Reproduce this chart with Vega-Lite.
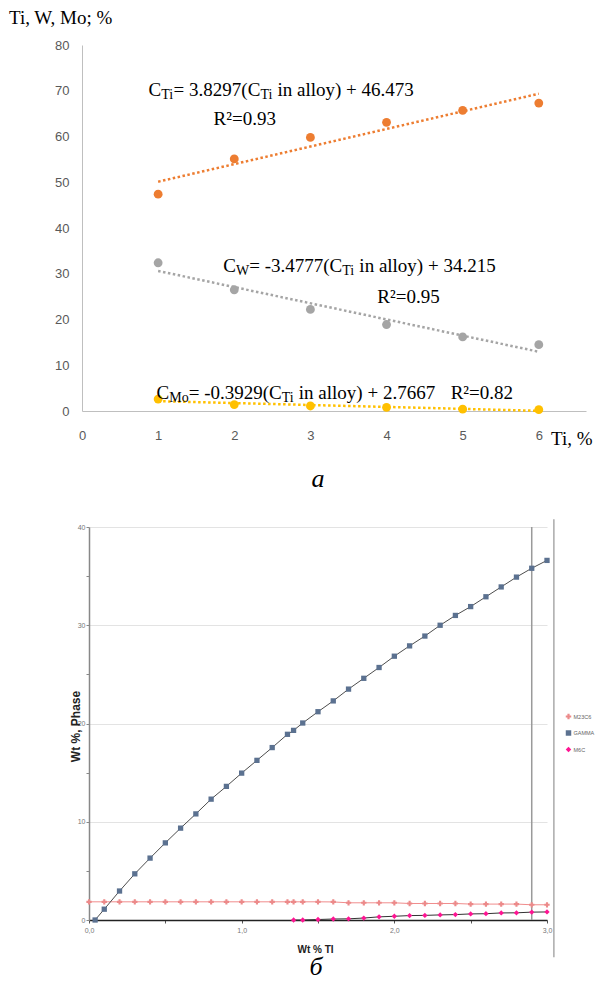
{
  "$schema": "https://vega.github.io/schema/vega-lite/v6.json",
  "background": "white",
  "padding": {"left": 8, "top": 8, "right": 0, "bottom": 0},
  "spacing": 26,
  "config": {"view": {"stroke": null}},
  "resolve": {"scale": {"color": "independent", "shape": "independent"}, "legend": {"color": "independent", "shape": "independent"}},
  "vconcat": [
    {
      "width": 504,
      "height": 366,
      "title": {"text": "а", "orient": "bottom", "font": "Liberation Serif", "fontStyle": "italic", "fontWeight": "normal", "fontSize": 26, "color": "black", "dx": -16, "offset": 17},
      "layer": [
        {
          "data": {"values": [
            {"ti": 1, "series": "Ti", "c": 47.4},
            {"ti": 2, "series": "Ti", "c": 55.1},
            {"ti": 3, "series": "Ti", "c": 59.8},
            {"ti": 4, "series": "Ti", "c": 63.1},
            {"ti": 5, "series": "Ti", "c": 65.7},
            {"ti": 6, "series": "Ti", "c": 67.3},
            {"ti": 1, "series": "W", "c": 32.4},
            {"ti": 2, "series": "W", "c": 26.5},
            {"ti": 3, "series": "W", "c": 22.2},
            {"ti": 4, "series": "W", "c": 18.9},
            {"ti": 5, "series": "W", "c": 16.2},
            {"ti": 6, "series": "W", "c": 14.5},
            {"ti": 1, "series": "Mo", "c": 2.6},
            {"ti": 2, "series": "Mo", "c": 1.4},
            {"ti": 3, "series": "Mo", "c": 1.1},
            {"ti": 4, "series": "Mo", "c": 0.8},
            {"ti": 5, "series": "Mo", "c": 0.4},
            {"ti": 6, "series": "Mo", "c": 0.3}
          ]},
          "encoding": {
            "x": {"field": "ti", "type": "quantitative", "scale": {"domain": [0, 6.62], "nice": false},
              "axis": {"title": "Ti, %", "titleFont": "Liberation Serif", "titleFontSize": 19, "titleFontWeight": "normal", "titleColor": "black",
                "titleX": 468.5, "titleY": 33.5, "titleAlign": "left", "titleBaseline": "alphabetic",
                "values": [0, 1, 2, 3, 4, 5, 6], "format": "d", "ticks": false, "grid": false,
                "domainColor": "#bfbfbf", "domainWidth": 1, "labelFont": "Liberation Sans", "labelFontSize": 13, "labelColor": "#595959", "labelPadding": 18, "labelFlush": false}},
            "y": {"field": "c", "type": "quantitative", "scale": {"domain": [0, 80], "nice": false},
              "axis": {"title": "Ti, W, Mo; %", "titleFont": "Liberation Serif", "titleFontSize": 19, "titleFontWeight": "normal", "titleColor": "black",
                "titleAngle": 0, "titleX": -73.5, "titleY": -22, "titleAlign": "left", "titleBaseline": "alphabetic",
                "values": [0, 10, 20, 30, 40, 50, 60, 70, 80], "ticks": false, "grid": false,
                "domainColor": "#bfbfbf", "domainWidth": 1, "labelFont": "Liberation Sans", "labelFontSize": 13, "labelColor": "#595959", "labelPadding": 13}},
            "color": {"field": "series", "type": "nominal", "scale": {"domain": ["Ti", "W", "Mo"], "range": ["#ED7D31", "#A5A5A5", "#FFC000"]}, "legend": null}
          },
          "layer": [
            {"transform": [{"regression": "c", "on": "ti", "groupby": ["series"]}],
             "mark": {"type": "line", "strokeDash": [2.5, 2.5], "strokeWidth": 2.5}},
            {"mark": {"type": "circle", "size": 78, "opacity": 1}}
          ]
        },
        {
          "data": {"values": [
            {"x": 0.874, "y": 68.9, "t": "C", "r": "main"},
            {"x": 1.040, "y": 68.9, "t": "Ti", "r": "sub"},
            {"x": 1.203, "y": 68.9, "t": "= 3.8297(C", "r": "main"},
            {"x": 2.343, "y": 68.9, "t": "Ti", "r": "sub"},
            {"x": 2.568, "y": 68.9, "t": "in alloy) + 46.473", "r": "main"},
            {"x": 1.728, "y": 62.55, "t": "R²=0.93", "r": "main"},
            {"x": 1.855, "y": 30.3, "t": "C", "r": "main"},
            {"x": 2.022, "y": 30.3, "t": "W", "r": "sub"},
            {"x": 2.196, "y": 30.3, "t": "= -3.4777(C", "r": "main"},
            {"x": 3.418, "y": 30.3, "t": "Ti", "r": "sub"},
            {"x": 3.643, "y": 30.3, "t": "in alloy) + 34.215", "r": "main"},
            {"x": 3.879, "y": 23.6, "t": "R²=0.95", "r": "main"},
            {"x": 0.979, "y": 2.73, "t": "C", "r": "main"},
            {"x": 1.146, "y": 2.73, "t": "Mo", "r": "sub"},
            {"x": 1.401, "y": 2.73, "t": "= -0.3929(C", "r": "main"},
            {"x": 2.623, "y": 2.73, "t": "Ti", "r": "sub"},
            {"x": 2.848, "y": 2.73, "t": "in alloy) + 2.7667", "r": "main"},
            {"x": 4.842, "y": 2.73, "t": "R²=0.82", "r": "main"}
          ]},
          "encoding": {
            "x": {"field": "x", "type": "quantitative"},
            "y": {"field": "y", "type": "quantitative"},
            "text": {"field": "t"}
          },
          "layer": [
            {"transform": [{"filter": "datum.r === 'main'"}],
             "mark": {"type": "text", "align": "left", "baseline": "alphabetic", "font": "Liberation Serif", "fontSize": 19, "color": "black"}},
            {"transform": [{"filter": "datum.r === 'sub'"}],
             "mark": {"type": "text", "align": "left", "baseline": "alphabetic", "font": "Liberation Serif", "fontSize": 14, "dy": 3, "color": "black"}}
          ]
        }
      ]
    },
    {
      "resolve": {"scale": {"color": "independent", "shape": "independent"}, "legend": {"color": "independent", "shape": "independent"}},
      "hconcat": [
        {"width": 1, "height": 1, "data": {"values": []}, "mark": "point"},
        {
          "width": 458,
          "height": 393,
          "title": {"text": "б", "orient": "bottom", "font": "Liberation Serif", "fontStyle": "italic", "fontWeight": "normal", "fontSize": 26, "color": "black", "dx": -2, "offset": -4},
          "data": {"values": [
            {"wt": 0.0, "phase": "M23C6", "v": 1.85},
            {"wt": 0.1, "phase": "M23C6", "v": 1.85},
            {"wt": 0.2, "phase": "M23C6", "v": 1.85},
            {"wt": 0.3, "phase": "M23C6", "v": 1.85},
            {"wt": 0.4, "phase": "M23C6", "v": 1.85},
            {"wt": 0.5, "phase": "M23C6", "v": 1.85},
            {"wt": 0.6, "phase": "M23C6", "v": 1.85},
            {"wt": 0.7, "phase": "M23C6", "v": 1.85},
            {"wt": 0.8, "phase": "M23C6", "v": 1.85},
            {"wt": 0.9, "phase": "M23C6", "v": 1.85},
            {"wt": 1.0, "phase": "M23C6", "v": 1.85},
            {"wt": 1.1, "phase": "M23C6", "v": 1.85},
            {"wt": 1.2, "phase": "M23C6", "v": 1.85},
            {"wt": 1.3, "phase": "M23C6", "v": 1.85},
            {"wt": 1.34, "phase": "M23C6", "v": 1.85},
            {"wt": 1.4, "phase": "M23C6", "v": 1.85},
            {"wt": 1.5, "phase": "M23C6", "v": 1.85},
            {"wt": 1.6, "phase": "M23C6", "v": 1.84},
            {"wt": 1.7, "phase": "M23C6", "v": 1.75},
            {"wt": 1.8, "phase": "M23C6", "v": 1.75},
            {"wt": 1.9, "phase": "M23C6", "v": 1.75},
            {"wt": 2.0, "phase": "M23C6", "v": 1.75},
            {"wt": 2.1, "phase": "M23C6", "v": 1.68},
            {"wt": 2.2, "phase": "M23C6", "v": 1.68},
            {"wt": 2.3, "phase": "M23C6", "v": 1.68},
            {"wt": 2.4, "phase": "M23C6", "v": 1.68},
            {"wt": 2.5, "phase": "M23C6", "v": 1.62},
            {"wt": 2.6, "phase": "M23C6", "v": 1.62},
            {"wt": 2.7, "phase": "M23C6", "v": 1.62},
            {"wt": 2.8, "phase": "M23C6", "v": 1.62},
            {"wt": 2.9, "phase": "M23C6", "v": 1.55},
            {"wt": 3.0, "phase": "M23C6", "v": 1.55},
            {"wt": 0.04, "phase": "GAMMA", "v": 0.0},
            {"wt": 0.1, "phase": "GAMMA", "v": 1.1},
            {"wt": 0.2, "phase": "GAMMA", "v": 2.95},
            {"wt": 0.3, "phase": "GAMMA", "v": 4.7},
            {"wt": 0.4, "phase": "GAMMA", "v": 6.3},
            {"wt": 0.5, "phase": "GAMMA", "v": 7.85},
            {"wt": 0.6, "phase": "GAMMA", "v": 9.35},
            {"wt": 0.7, "phase": "GAMMA", "v": 10.8},
            {"wt": 0.8, "phase": "GAMMA", "v": 12.3},
            {"wt": 0.9, "phase": "GAMMA", "v": 13.6},
            {"wt": 1.0, "phase": "GAMMA", "v": 14.95},
            {"wt": 1.1, "phase": "GAMMA", "v": 16.25},
            {"wt": 1.2, "phase": "GAMMA", "v": 17.55},
            {"wt": 1.3, "phase": "GAMMA", "v": 18.9},
            {"wt": 1.34, "phase": "GAMMA", "v": 19.3},
            {"wt": 1.4, "phase": "GAMMA", "v": 20.05},
            {"wt": 1.5, "phase": "GAMMA", "v": 21.2},
            {"wt": 1.6, "phase": "GAMMA", "v": 22.3},
            {"wt": 1.7, "phase": "GAMMA", "v": 23.5},
            {"wt": 1.8, "phase": "GAMMA", "v": 24.6},
            {"wt": 1.9, "phase": "GAMMA", "v": 25.7},
            {"wt": 2.0, "phase": "GAMMA", "v": 26.85},
            {"wt": 2.1, "phase": "GAMMA", "v": 27.9},
            {"wt": 2.2, "phase": "GAMMA", "v": 28.9},
            {"wt": 2.3, "phase": "GAMMA", "v": 30.0},
            {"wt": 2.4, "phase": "GAMMA", "v": 31.0},
            {"wt": 2.5, "phase": "GAMMA", "v": 31.9},
            {"wt": 2.6, "phase": "GAMMA", "v": 32.9},
            {"wt": 2.7, "phase": "GAMMA", "v": 33.9},
            {"wt": 2.8, "phase": "GAMMA", "v": 34.9},
            {"wt": 2.9, "phase": "GAMMA", "v": 35.8},
            {"wt": 3.0, "phase": "GAMMA", "v": 36.6},
            {"wt": 1.34, "phase": "M6C", "v": 0.0},
            {"wt": 1.4, "phase": "M6C", "v": 0.0},
            {"wt": 1.5, "phase": "M6C", "v": 0.05},
            {"wt": 1.6, "phase": "M6C", "v": 0.1},
            {"wt": 1.7, "phase": "M6C", "v": 0.12},
            {"wt": 1.8, "phase": "M6C", "v": 0.2},
            {"wt": 1.9, "phase": "M6C", "v": 0.32},
            {"wt": 2.0, "phase": "M6C", "v": 0.38},
            {"wt": 2.1, "phase": "M6C", "v": 0.45},
            {"wt": 2.2, "phase": "M6C", "v": 0.47},
            {"wt": 2.3, "phase": "M6C", "v": 0.52},
            {"wt": 2.4, "phase": "M6C", "v": 0.55},
            {"wt": 2.5, "phase": "M6C", "v": 0.62},
            {"wt": 2.6, "phase": "M6C", "v": 0.64},
            {"wt": 2.7, "phase": "M6C", "v": 0.72},
            {"wt": 2.8, "phase": "M6C", "v": 0.73},
            {"wt": 2.9, "phase": "M6C", "v": 0.8},
            {"wt": 3.0, "phase": "M6C", "v": 0.82}
          ]},
          "encoding": {
            "x": {"field": "wt", "type": "quantitative", "scale": {"domain": [0, 3], "nice": false},
              "axis": {"title": "Wt % TI", "titleFont": "Liberation Sans", "titleFontWeight": "bold", "titleFontSize": 10, "titleColor": "#222222",
                "titleX": 226, "titleY": 32, "titleAlign": "center", "titleBaseline": "alphabetic",
                "values": [0, 0.5, 1, 1.5, 2, 2.5, 3],
                "labelExpr": "datum.value % 1 === 0 ? replace(format(datum.value, '.1f'), '.', ',') : ''",
                "tickSize": 3, "tickColor": "#555555", "domainColor": "#222222", "domainWidth": 1.5, "grid": false,
                "labelFont": "Liberation Sans Narrow, Liberation Sans", "labelFontSize": 7, "labelColor": "#777777", "labelPadding": 3, "labelFlush": false}},
            "y": {"field": "v", "type": "quantitative", "scale": {"domain": [0, 40], "nice": false},
              "axis": {"title": "Wt %, Phase", "titleFont": "Liberation Sans", "titleFontWeight": "bold", "titleFontSize": 12, "titleColor": "#222222",
                "titleX": -10, "titleY": 199, "titleAlign": "center", "titleBaseline": "alphabetic", "titleAngle": -90,
                "values": [0, 5, 10, 15, 20, 25, 30, 35, 40],
                "labelExpr": "datum.value % 10 === 0 ? datum.label : ''",
                "tickSize": 3, "tickColor": "#888888", "domainColor": "#888888", "domainWidth": 1.5,
                "grid": true, "gridColor": {"condition": {"test": "datum.value % 10 === 0 && datum.value > 0", "value": "#e3e3e3"}, "value": "transparent"},
                "labelFont": "Liberation Sans Narrow, Liberation Sans", "labelFontSize": 7, "labelColor": "#777777", "labelPadding": 1}}
          },
          "layer": [
            {
              "data": {"values": [{"wt": 2.9}]},
              "mark": {"type": "rule", "color": "#9a9a9a", "strokeWidth": 1.5},
              "encoding": {"x": {"field": "wt", "type": "quantitative"}, "y": null}
            },
            {
              "data": {"values": [{"wt": 3.045, "lo": -3.8, "hi": 40.8}]},
              "mark": {"type": "rule", "color": "#aaaaaa", "strokeWidth": 1.5, "clip": false},
              "encoding": {
                "x": {"field": "wt", "type": "quantitative"},
                "y": {"field": "lo", "type": "quantitative"},
                "y2": {"field": "hi"}
              }
            },
            {"transform": [{"filter": "datum.phase === 'M23C6'"}], "mark": {"type": "line", "strokeWidth": 1, "color": "#f08c8c"}},
            {"transform": [{"filter": "datum.phase === 'GAMMA'"}], "mark": {"type": "line", "strokeWidth": 1, "color": "#4d4d4d"}},
            {"transform": [{"filter": "datum.phase === 'M6C'"}], "mark": {"type": "line", "strokeWidth": 1, "color": "#333333"}},
            {"mark": {"type": "point", "filled": true, "opacity": 1, "size": 28},
             "encoding": {
               "color": {"field": "phase", "type": "nominal", "scale": {"domain": ["M23C6", "GAMMA", "M6C"], "range": ["#ec8a8a", "#5b7190", "#ff1493"]},
                 "legend": {"orient": "none", "legendX": 476, "legendY": 186, "title": null, "labelFont": "Liberation Sans Narrow, Liberation Sans", "labelFontSize": 5.5, "labelColor": "#666666", "symbolSize": 30, "rowPadding": 9.5, "labelOffset": 1.5, "padding": 0}},
               "shape": {"field": "phase", "type": "nominal", "scale": {"domain": ["M23C6", "GAMMA", "M6C"], "range": ["cross", "square", "diamond"]},
                 "legend": {"orient": "none", "legendX": 476, "legendY": 186, "title": null, "labelFont": "Liberation Sans Narrow, Liberation Sans", "labelFontSize": 5.5, "labelColor": "#666666", "symbolSize": 30, "rowPadding": 9.5, "labelOffset": 1.5, "padding": 0}}
             }}
          ]
        }
      ],
      "spacing": 6,
      "bounds": "flush",
      "align": "each"
    }
  ]
}
